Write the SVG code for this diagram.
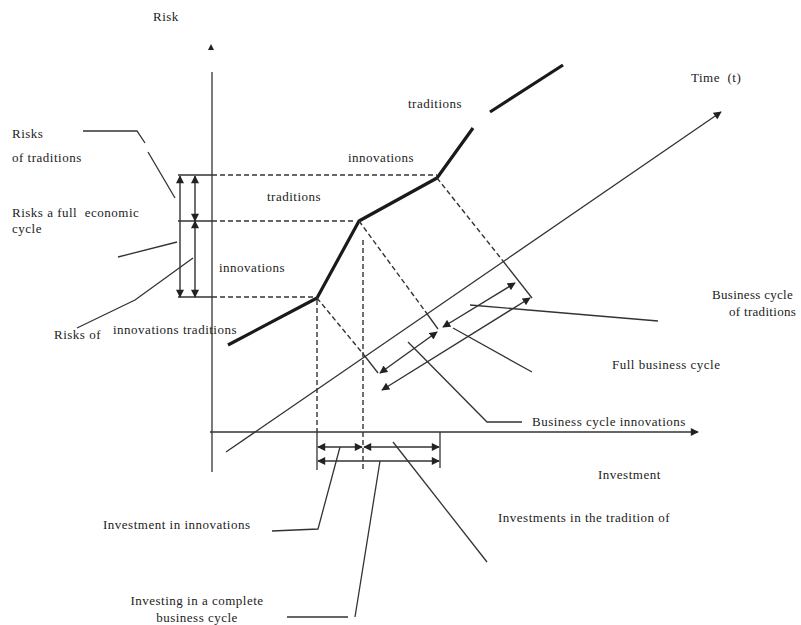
<svg xmlns="http://www.w3.org/2000/svg" width="801" height="625" viewBox="0 0 801 625">
<defs>
<marker id="ah" viewBox="0 0 10 10" refX="9" refY="5" markerWidth="9" markerHeight="8" markerUnits="userSpaceOnUse" orient="auto-start-reverse">
<path d="M0,0 L10,5 L0,10 z" fill="#222"/>
</marker>
<style>
.t{font-family:"Liberation Serif","Times New Roman",serif;font-size:13px;letter-spacing:0.5px;fill:#222}
.l{stroke:#333;stroke-width:1.3;fill:none}
.d{stroke:#333;stroke-width:1.4;fill:none;stroke-dasharray:5 3}
.k{stroke:#1a1a1a;stroke-width:3.2;fill:none;stroke-linejoin:round}
.a{stroke:#333;stroke-width:1.4;fill:none;marker-start:url(#ah);marker-end:url(#ah)}
</style>
</defs>
<rect width="801" height="625" fill="#fff"/>
<g id="axes">
<line class="l" x1="212" y1="72" x2="212" y2="472"/>
<polygon points="208,50 214,50 211,44" fill="#222"/>
<line class="l" x1="210" y1="432" x2="698" y2="432" style="marker-end:url(#ah)"/>
<line class="l" x1="226" y1="452" x2="721" y2="112" style="marker-end:url(#ah)"/>
</g>
<g id="curve">
<polyline class="k" points="228,345 317,298 359,221 437,178 473,128"/>
<line class="k" x1="490" y1="112" x2="563" y2="65"/>
</g>
<g id="projections">
<line class="l" x1="178" y1="175" x2="212" y2="175"/>
<line class="l" x1="178" y1="221" x2="212" y2="221"/>
<line class="l" x1="178" y1="297" x2="212" y2="297"/>
<line class="d" x1="212" y1="175" x2="437" y2="175"/>
<line class="d" x1="212" y1="221" x2="356" y2="221"/>
<line class="d" x1="212" y1="297" x2="317" y2="297"/>
<line class="d" x1="317" y1="300" x2="317" y2="432"/>
<line class="l" x1="317" y1="432" x2="317" y2="470"/>
<line class="d" x1="363" y1="240" x2="363" y2="472"/>
<line class="l" x1="440" y1="432" x2="440" y2="468"/>
<line class="d" x1="317" y1="298" x2="364" y2="355"/>
<line class="l" x1="364" y1="355" x2="378" y2="373"/>
<line class="d" x1="359" y1="221" x2="425" y2="311"/>
<line class="l" x1="425" y1="311" x2="438" y2="329"/>
<line class="d" x1="437" y1="178" x2="503" y2="261"/>
<line class="l" x1="503" y1="261" x2="532" y2="298"/>
</g>
<g id="arrows">
<line class="a" x1="180" y1="176" x2="180" y2="297"/>
<line class="a" x1="195" y1="176" x2="195" y2="221"/>
<line class="a" x1="195" y1="221" x2="195" y2="297"/>
<line class="a" x1="318" y1="447" x2="362" y2="447"/>
<line class="a" x1="364" y1="447" x2="439" y2="447"/>
<line class="a" x1="318" y1="461" x2="439" y2="461"/>
<line class="a" x1="380" y1="373" x2="437" y2="332"/>
<line class="a" x1="443" y1="327" x2="515" y2="283"/>
<line class="a" x1="382" y1="390" x2="530" y2="298"/>
</g>
<g id="connectors">
<polyline class="l" points="83,131 137,131 145,143"/>
<line class="l" x1="148" y1="152" x2="175" y2="198"/>
<line class="l" x1="118" y1="257" x2="177" y2="242"/>
<polyline class="l" points="77,328 135,300 193,258"/>
<line class="l" x1="470" y1="305" x2="658" y2="321"/>
<line class="l" x1="453" y1="328" x2="532" y2="372"/>
<polyline class="l" points="408,342 487,422 522,422"/>
<polyline class="l" points="272,531 318,529 340,447"/>
<line class="l" x1="287" y1="617" x2="348" y2="617"/>
<line class="l" x1="355" y1="617" x2="380" y2="461"/>
<line class="l" x1="393" y1="442" x2="487" y2="562"/>
</g>
<g id="labels">
<text class="t" x="153" y="21">Risk</text>
<text class="t" x="691" y="82" xml:space="preserve">Time  (t)</text>
<text class="t" x="12" y="138">Risks</text>
<text class="t" x="12" y="162">of traditions</text>
<text class="t" x="12" y="217" xml:space="preserve">Risks a full  economic</text>
<text class="t" x="12" y="233">cycle</text>
<text class="t" x="219" y="272">innovations</text>
<text class="t" x="54" y="339">Risks of</text>
<text class="t" x="113" y="334">innovations traditions</text>
<text class="t" x="267" y="201">traditions</text>
<text class="t" x="348" y="162">innovations</text>
<text class="t" x="408" y="108">traditions</text>
<text class="t" x="712" y="299" style="letter-spacing:0.3px">Business cycle</text>
<text class="t" x="729" y="316" style="letter-spacing:0.3px">of traditions</text>
<text class="t" x="612" y="369">Full business cycle</text>
<text class="t" x="532" y="426">Business cycle innovations</text>
<text class="t" x="598" y="479">Investment</text>
<text class="t" x="498" y="522">Investments in the tradition of</text>
<text class="t" x="103" y="529">Investment in innovations</text>
<text class="t" x="197" y="605" text-anchor="middle">Investing in a complete</text>
<text class="t" x="197" y="622" text-anchor="middle">business cycle</text>
</g>
</svg>
